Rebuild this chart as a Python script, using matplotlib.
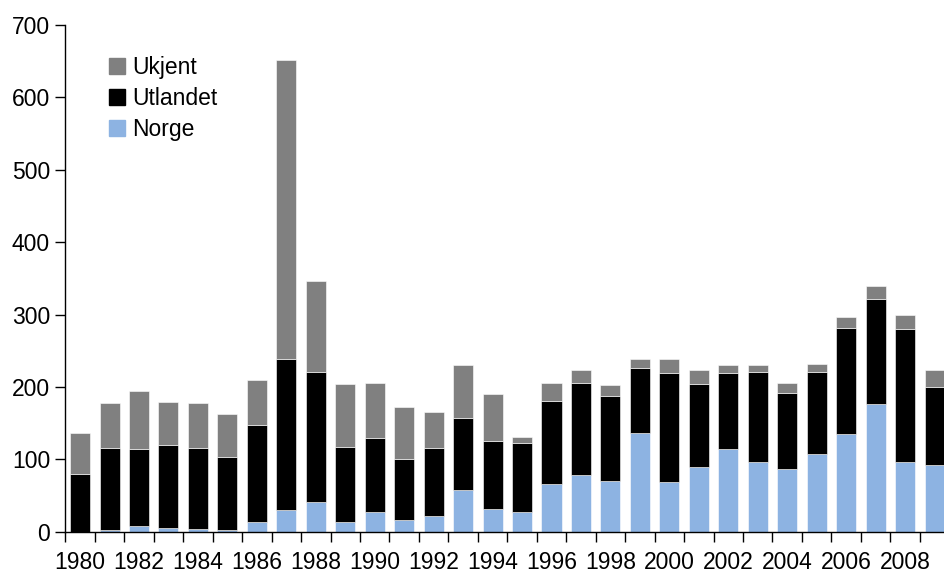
import matplotlib
matplotlib.use("Agg")
import matplotlib.pyplot as plt
from matplotlib.patches import Patch
import numpy as np

plt.rcParams['font.family'] = ['Liberation Sans', 'DejaVu Sans']

years = list(range(1980, 2010))
norge = [0, 3, 8, 5, 4, 2, 13, 30, 41, 14, 27, 16, 22, 58,
         31, 27, 66, 78, 70, 137, 68, 89, 114, 96, 86, 108, 135, 176, 96, 92]
utlandet = [80, 112, 106, 115, 111, 101, 135, 209, 180, 103, 102, 84, 94, 99,
            94, 96, 115, 127, 118, 89, 151, 115, 105, 124, 106, 112, 146, 146, 184, 108]
ukjent = [57, 63, 81, 59, 63, 60, 61, 412, 126, 87, 76, 72, 50, 73,
          65, 8, 25, 19, 14, 12, 19, 20, 11, 10, 13, 12, 15, 18, 20, 24]
y_ticks = [0, 100, 200, 300, 400, 500, 600, 700]

c_norge = '#8DB3E2'
c_utl = '#000000'
c_ukj = '#808080'

fig = plt.figure(figsize=(9.44, 5.75), dpi=100)
ax = fig.add_axes([0.0692, 0.0753, 0.9364, 0.8812])

x = np.arange(len(years))
w = 0.68
n = np.array(norge)
u = np.array(utlandet)
k = np.array(ukjent)
ax.bar(x, n, w, color=c_norge, edgecolor='white', linewidth=0.4)
ax.bar(x, u, w, bottom=n, color=c_utl, edgecolor='white', linewidth=0.4)
ax.bar(x, k, w, bottom=n + u, color=c_ukj, edgecolor='white', linewidth=0.4)

ax.set_xlim(-0.5, len(years) - 0.5)
ax.set_ylim(0, 700)
ax.set_yticks(y_ticks)
ax.tick_params(axis='y', direction='out', length=7, width=1, labelsize=16.5, pad=4)

# labels under every other year, tick marks between categories
ax.set_xticks(x[::2])
ax.set_xticklabels([str(y) for y in years[::2]])
ax.tick_params(axis='x', which='major', length=0, labelsize=16.5, pad=14)
ax.set_xticks(np.arange(-0.5, len(years), 1.0), minor=True)
ax.tick_params(axis='x', which='minor', direction='out', length=7, width=1)

for s in ['top', 'right']:
    ax.spines[s].set_visible(False)
for s in ['left', 'bottom']:
    ax.spines[s].set_linewidth(1)

handles = [Patch(color=c_ukj, label='Ukjent'),
           Patch(color=c_utl, label='Utlandet'),
           Patch(color=c_norge, label='Norge')]
ax.legend(handles=handles, loc='upper left', bbox_to_anchor=(0.039, 0.957),
          frameon=False, fontsize=16.5, handlelength=0.7, handleheight=0.7,
          handletextpad=0.3, labelspacing=0.35, borderaxespad=0)

fig.savefig('out.png', dpi=100)
